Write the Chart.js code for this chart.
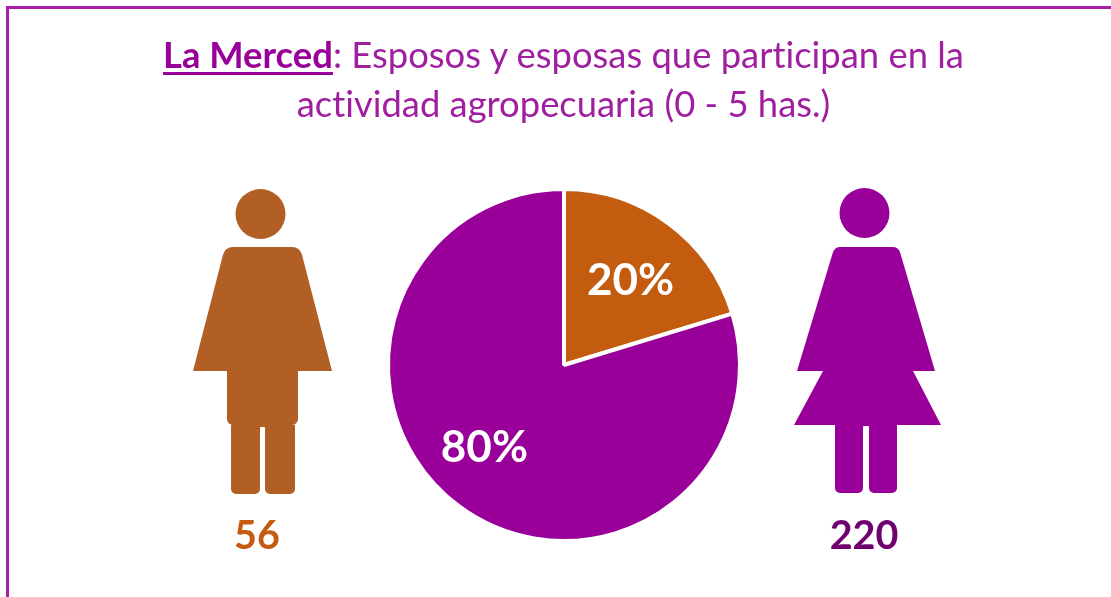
<!DOCTYPE html>
<html lang="es">
<head>
<meta charset="utf-8">
<style>
html,body{margin:0;padding:0;background:#fff;width:1111px;height:597px;overflow:hidden}
#wrap{position:relative;width:1111px;height:597px;font-family:Lato,sans-serif}
#frame{position:absolute;left:6px;top:6px;width:1105px;height:591px;box-sizing:border-box;border-top:3px solid #A81FA8;border-left:3px solid #A81FA8}
#chart{position:absolute;left:0;top:0}
.t{position:absolute;left:0;width:1127px;text-align:center;color:#A01FA0;font-size:36.4px;line-height:49px;white-space:nowrap;font-variant-ligatures:none}
.t b{color:#990099;text-decoration:underline;text-decoration-thickness:3px;text-underline-offset:4px}
.n{position:absolute;font-weight:700;font-size:39.5px;line-height:40px;width:120px;text-align:center}
</style>
</head>
<body>
<div id="wrap">
<div id="frame"></div>
<canvas id="chart" width="1111" height="597"></canvas>
<div class="t" style="top:30px"><b>La Merced</b>: Esposos y esposas que participan en la</div>
<div class="t" style="top:79px">actividad agropecuaria (0 - 5 has.)</div>
<div class="n" id="nMen" style="left:197px;top:514px;color:#C55A11"></div>
<div class="n" id="nWomen" style="left:804px;top:514px;color:#70006F"></div>
</div>
<script src="https://cdn.jsdelivr.net/npm/chart.js@4"></script>
<script>
const categories = ["Esposos", "Esposas"];
const counts = [56, 220];
const sliceColors = ["#C45C10", "#990099"];
const figureColors = ["#B25F25", "#990099"];

document.getElementById("nMen").textContent = counts[0];
document.getElementById("nWomen").textContent = counts[1];

function roundedPoly(ctx, pts) {
  // pts: [x, y, cornerRadius]
  const n = pts.length;
  const a = pts[n - 1], b = pts[0];
  ctx.moveTo((a[0] + b[0]) / 2, (a[1] + b[1]) / 2);
  for (let i = 0; i < n; i++) {
    const p = pts[i], q = pts[(i + 1) % n];
    ctx.arcTo(p[0], p[1], (p[0] + q[0]) / 2, (p[1] + q[1]) / 2, p[2] || 0);
  }
  ctx.closePath();
}
const manShape = [[225,247,10],[300,247,10],[332,371,0],[298,371,0],[298,425,6],[295,425,0],[295,494,5],[265,494,5],[265,427,1],[260,427,1],[260,494,5],[231,494,5],[231,425,0],[227,425,6],[227,371,0],[193,371,0]];
const womanShape = [[834.5,247,8],[898.5,247,8],[935,371,0],[913,371,0],[941,425,0],[897,425,0],[897,493,5],[869,493,5],[869,426,1],[863,426,1],[863,493,5],[835,493,5],[835,425,0],[794,425,0],[823,371,0],[797,371,0]];

const figures = {
  id: "figures",
  afterDraw(chart) {
    const ctx = chart.ctx;
    ctx.save();
    ctx.fillStyle = figureColors[0];
    ctx.beginPath(); ctx.arc(260.5, 214, 25, 0, Math.PI * 2); ctx.fill();
    ctx.beginPath(); roundedPoly(ctx, manShape); ctx.fill();
    ctx.fillStyle = figureColors[1];
    ctx.beginPath(); ctx.arc(864.5, 213, 25, 0, Math.PI * 2); ctx.fill();
    ctx.beginPath(); roundedPoly(ctx, womanShape); ctx.fill();
    ctx.restore();
  }
};

const labelAngleShift = [1, 8];
const labelRadius = [0.62, 0.645];
const pieLabels = {
  id: "pieLabels",
  afterDatasetsDraw(chart) {
    const ctx = chart.ctx;
    const arcs = chart.getDatasetMeta(0).data;
    const total = counts.reduce((a, b) => a + b, 0);
    ctx.save();
    ctx.fillStyle = "#fff";
    ctx.font = "700 44px Lato, sans-serif";
    ctx.textAlign = "center";
    ctx.textBaseline = "middle";
    arcs.forEach((arc, i) => {
      const mid = (arc.startAngle + arc.endAngle) / 2 + labelAngleShift[i] * Math.PI / 180;
      const r = arc.outerRadius * labelRadius[i];
      const text = Math.round(counts[i] / total * 100) + "%";
      ctx.fillText(text, arc.x + Math.cos(mid) * r, arc.y + Math.sin(mid) * r + 2);
    });
    ctx.restore();
  }
};

new Chart(document.getElementById("chart"), {
  type: "pie",
  data: {
    labels: categories,
    datasets: [{ data: counts, backgroundColor: sliceColors, borderColor: "#fff", borderWidth: 4 }]
  },
  options: {
    responsive: false,
    animation: false,
    layout: { padding: { left: 386, right: 369, top: 187, bottom: 54 } },
    plugins: { legend: { display: false }, title: { display: false }, tooltip: { enabled: false } }
  },
  plugins: [figures, pieLabels]
});
</script>
</body>
</html>
